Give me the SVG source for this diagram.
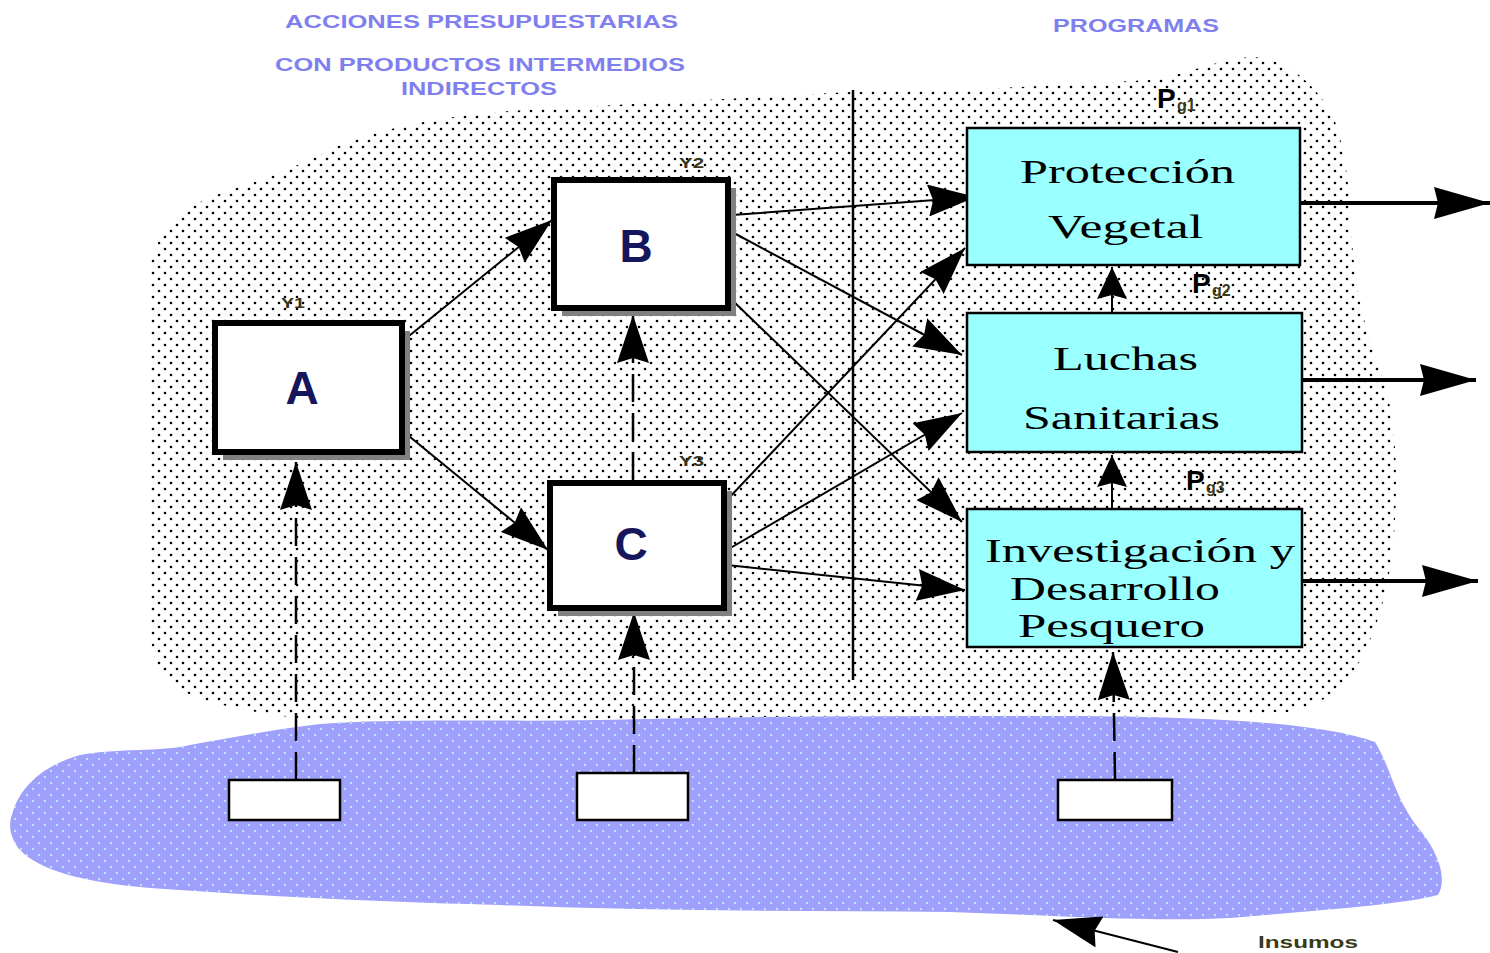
<svg xmlns="http://www.w3.org/2000/svg" width="1490" height="953" viewBox="0 0 1490 953">
<style>
.hdr{font-family:"Liberation Sans",Arial,sans-serif;font-weight:bold;font-size:18px;fill:#7f7ff0}
.box{fill:#ffffff;stroke:#000;stroke-width:6}
.shadow{fill:#808080}
.big{font-family:"Liberation Sans",Arial,sans-serif;font-weight:bold;font-size:46px;fill:#16165c;text-anchor:middle}
.y{font-family:"Liberation Sans",Arial,sans-serif;font-weight:bold;font-size:14px;fill:#34341a}
.prog{fill:#99ffff;stroke:#000;stroke-width:2.5}
.pt{font-family:"Liberation Serif","Times New Roman",serif;font-size:34px;fill:#000}
.P{font-family:"Liberation Sans",Arial,sans-serif;font-weight:bold;font-size:28px;fill:#000}
.sub{font-family:"Liberation Sans",Arial,sans-serif;font-weight:bold;font-size:16px;fill:#3a3a1c}
.ln{stroke:#000;stroke-width:2;fill:none}
.dash{stroke:#000;stroke-width:2.5;fill:none;stroke-dasharray:28 11}
.thick{stroke:#000;stroke-width:4;fill:none}
.inbox{fill:#fff;stroke:#000;stroke-width:2.5}
</style>
<defs>
<pattern id="dots" width="12" height="12" patternUnits="userSpaceOnUse">
<circle cx="3" cy="3" r="1.3" fill="#000"/>
<circle cx="9" cy="9" r="1.3" fill="#000"/>
</pattern>
<pattern id="bdots" width="12" height="12" patternUnits="userSpaceOnUse">
<circle cx="3" cy="3" r="1.1" fill="#c8f4ff"/>
<circle cx="9" cy="9" r="1.1" fill="#c8f4ff"/>
</pattern>
<marker id="ah" markerUnits="userSpaceOnUse" markerWidth="50" markerHeight="32" refX="48" refY="16" orient="auto">
<path d="M0,0 L48,16 L0,32 L5,16 z" fill="#000"/>
</marker>
<marker id="ahs" markerUnits="userSpaceOnUse" markerWidth="34" markerHeight="30" refX="32" refY="15" orient="auto">
<path d="M0,0 L32,15 L0,30 L4,15 z" fill="#000"/>
</marker>
<marker id="ahl" markerUnits="userSpaceOnUse" markerWidth="58" markerHeight="32" refX="56" refY="16" orient="auto">
<path d="M0,0 L56,16 L0,32 L4,16 z" fill="#000"/>
</marker>
</defs>
<rect width="1490" height="953" fill="#fff"/>

<g id="background">
<path d="M150,265 C160,225 185,205 230,190 C270,178 300,165 340,145 C400,122 470,112 560,108 L850,92 L1000,88 L1150,80 C1190,74 1215,60 1250,57 C1285,58 1310,80 1330,110 C1345,140 1350,190 1352,240 C1355,290 1365,330 1380,370 C1395,410 1398,460 1395,520 C1392,580 1378,630 1360,660 C1345,690 1320,705 1290,712 L1000,720 L400,725 C300,722 220,710 180,690 C155,675 150,650 150,620 Z" fill="url(#dots)"/>
<path d="M12,815 C20,785 45,765 80,755 C120,748 160,752 190,745 C230,738 270,730 320,724 C400,718 500,722 600,720 C750,716 900,716 1050,716 C1200,716 1320,722 1375,742 C1392,770 1395,800 1420,830 C1440,855 1447,880 1438,895 C1400,905 1320,910 1230,918 C1150,922 1050,915 950,912 C800,910 650,912 500,905 C380,902 260,896 150,888 C80,882 40,870 20,850 C10,838 8,825 12,815 Z" fill="#9f9ffc"/>
<path d="M12,815 C20,785 45,765 80,755 C120,748 160,752 190,745 C230,738 270,730 320,724 C400,718 500,722 600,720 C750,716 900,716 1050,716 C1200,716 1320,722 1375,742 C1392,770 1395,800 1420,830 C1440,855 1447,880 1438,895 C1400,905 1320,910 1230,918 C1150,922 1050,915 950,912 C800,910 650,912 500,905 C380,902 260,896 150,888 C80,882 40,870 20,850 C10,838 8,825 12,815 Z" fill="url(#bdots)"/>
<line x1="853" y1="90" x2="853" y2="680" stroke="#000" stroke-width="2.5"/>
</g>

<g id="titles">
<text class="hdr" x="285" y="28" textLength="393" lengthAdjust="spacingAndGlyphs">ACCIONES  PRESUPUESTARIAS</text>
<text class="hdr" x="275" y="71" textLength="410" lengthAdjust="spacingAndGlyphs">CON PRODUCTOS INTERMEDIOS</text>
<text class="hdr" x="401" y="95" textLength="156" lengthAdjust="spacingAndGlyphs">INDIRECTOS</text>
<text class="hdr" x="1053" y="32" textLength="166" lengthAdjust="spacingAndGlyphs">PROGRAMAS</text>
</g>

<g id="connectors">
<line class="ln" x1="404" y1="340" x2="552" y2="220" marker-end="url(#ah)"/>
<line class="ln" x1="404" y1="432" x2="548" y2="550" marker-end="url(#ah)"/>
<line class="ln" x1="732" y1="215" x2="976" y2="197" marker-end="url(#ah)"/>
<line class="ln" x1="732" y1="232" x2="962" y2="355" marker-end="url(#ah)"/>
<line class="ln" x1="732" y1="300" x2="962" y2="522" marker-end="url(#ah)"/>
<line class="ln" x1="727" y1="500" x2="965" y2="248" marker-end="url(#ah)"/>
<line class="ln" x1="727" y1="550" x2="962" y2="413" marker-end="url(#ah)"/>
<line class="ln" x1="727" y1="565" x2="965" y2="590" marker-end="url(#ah)"/>
<line class="dash" x1="633" y1="480" x2="633" y2="315" marker-end="url(#ah)"/>
<line class="dash" x1="296" y1="780" x2="296" y2="462" marker-end="url(#ah)"/>
<line class="dash" x1="634" y1="773" x2="634" y2="612" marker-end="url(#ah)"/>
<line class="dash" x1="1115" y1="780" x2="1113" y2="652" marker-end="url(#ah)"/>
<line class="ln" x1="1112" y1="509" x2="1112" y2="455" marker-end="url(#ahs)"/>
<line class="ln" x1="1112" y1="313" x2="1112" y2="267" marker-end="url(#ahs)"/>
<line class="thick" x1="1300" y1="203" x2="1490" y2="203" marker-end="url(#ahl)"/>
<line class="thick" x1="1302" y1="380" x2="1476" y2="380" marker-end="url(#ahl)"/>
<line class="thick" x1="1302" y1="581" x2="1478" y2="581" marker-end="url(#ahl)"/>
<line class="ln" x1="1178" y1="952" x2="1053" y2="920" marker-end="url(#ah)"/>
</g>

<g id="node-A">
<rect class="shadow" x="223" y="331" width="187" height="129"/>
<rect class="box" x="215" y="323" width="187" height="129"/>
<text class="big" x="302" y="404">A</text>
<text class="y" x="281" y="308" textLength="24" lengthAdjust="spacingAndGlyphs">Y1</text>
</g>
<g id="node-B">
<rect class="shadow" x="562" y="188" width="174" height="128"/>
<rect class="box" x="554" y="180" width="174" height="128"/>
<text class="big" x="636" y="262">B</text>
<text class="y" x="679" y="168" textLength="25" lengthAdjust="spacingAndGlyphs">Y2</text>
</g>
<g id="node-C">
<rect class="shadow" x="558" y="491" width="174" height="125"/>
<rect class="box" x="550" y="483" width="174" height="125"/>
<text class="big" x="631" y="560">C</text>
<text class="y" x="679" y="466" textLength="25" lengthAdjust="spacingAndGlyphs">Y3</text>
</g>

<g id="node-proteccion">
<rect class="prog" x="967" y="128" width="333" height="137"/>
<text class="pt" x="1020" y="183" textLength="215" lengthAdjust="spacingAndGlyphs">Protección</text>
<text class="pt" x="1048" y="238" textLength="155" lengthAdjust="spacingAndGlyphs">Vegetal</text>
<text class="P" x="1157" y="108">P</text><text class="sub" x="1177" y="111">g1</text>
</g>
<g id="node-luchas">
<rect class="prog" x="967" y="313" width="335" height="139"/>
<text class="pt" x="1053" y="370" textLength="145" lengthAdjust="spacingAndGlyphs">Luchas</text>
<text class="pt" x="1023" y="429" textLength="197" lengthAdjust="spacingAndGlyphs">Sanitarias</text>
<text class="P" x="1192" y="293">P</text><text class="sub" x="1212" y="296">g2</text>
</g>
<g id="node-investigacion">
<rect class="prog" x="967" y="509" width="335" height="138"/>
<text class="pt" x="985" y="562" textLength="310" lengthAdjust="spacingAndGlyphs">Investigación y</text>
<text class="pt" x="1010" y="600" textLength="210" lengthAdjust="spacingAndGlyphs">Desarrollo</text>
<text class="pt" x="1018" y="637" textLength="187" lengthAdjust="spacingAndGlyphs">Pesquero</text>
<text class="P" x="1186" y="490">P</text><text class="sub" x="1206" y="493">g3</text>
</g>

<g id="input-1"><rect class="inbox" x="229" y="780" width="111" height="40"/></g>
<g id="input-2"><rect class="inbox" x="577" y="773" width="111" height="47"/></g>
<g id="input-3"><rect class="inbox" x="1058" y="780" width="114" height="40"/></g>

<g id="insumos-label">
<text class="sub" x="1258" y="948" font-size="15" textLength="100" lengthAdjust="spacingAndGlyphs">Insumos</text>
</g>
</svg>
